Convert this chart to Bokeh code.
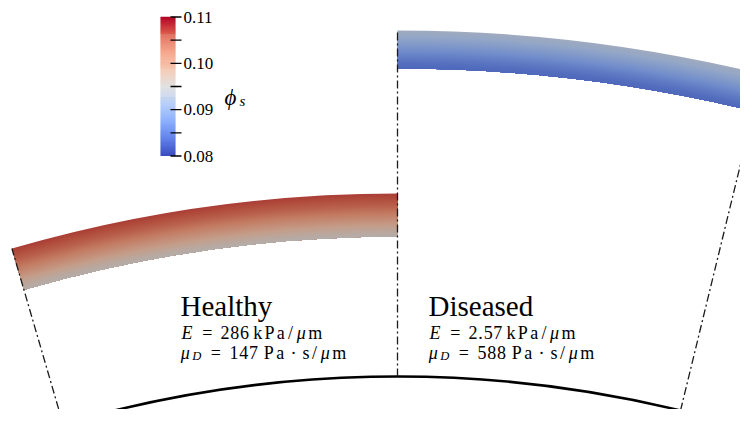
import numpy as np
from bokeh.plotting import figure
from bokeh.models import ColumnDataSource, Range1d
from bokeh.transform import linear_cmap
from bokeh.core.properties import value
from bokeh.embed import file_html
from bokeh.resources import INLINE

# ---------------- data ----------------
groups = ["Healthy", "Diseased"]
E_values = ["286", "2.57"]        # kPa/um
muD_values = ["147", "588"]       # Pa.s/um
phi_low, phi_high = 0.08, 0.11
cbar_major = [0.08, 0.09, 0.10, 0.11]
cbar_major_labels = ["0.08", "0.09", "0.10", "0.11"]
cbar_minor = [0.085, 0.095, 0.105]
# phi_s read across the wall, outer surface -> inner surface
healthy_phi = [0.1070, 0.1062, 0.1050, 0.1036, 0.1020, 0.1003, 0.0986, 0.0970, 0.0956]
diseased_phi = [0.0928, 0.0918, 0.0906, 0.0893, 0.0880, 0.0867, 0.0855, 0.0845, 0.0838]

# ---------------- layout (pixel-like units, y up) ----------------
W, H = 740, 409
CX, CY = 397.0, 425.0 - 1571.0
R_BASE = 1195.0
R_H = (1335.0, 1378.0)
R_D = (1503.0, 1541.0)
A_LEFT, A_MID, A_RIGHT = 106.25, 90.0, 76.3
SERIF = "Liberation Serif"

anchors = [(0.0, (59, 76, 192)), (0.125, (98, 130, 234)), (0.25, (141, 176, 254)),
           (0.375, (184, 208, 249)), (0.5, (221, 221, 221)), (0.625, (245, 196, 172)),
           (0.75, (244, 154, 123)), (0.875, (221, 96, 76)), (1.0, (180, 4, 38))]


def make_palette(n=256, shade=1.0):
    ts = [a[0] for a in anchors]
    out = []
    for t in np.linspace(0, 1, n):
        rgb = [np.interp(t, ts, [a[1][k] for a in anchors]) * shade for k in range(3)]
        out.append("#%02x%02x%02x" % tuple(int(round(c)) for c in rgb))
    return out


cbar_palette = make_palette(256, 1.0)
band_palette = make_palette(256, 0.8)

# the picture is taken from the figure's own top-left corner
p = figure(width=W, height=H, output_backend="svg", toolbar_location=None,
           x_range=Range1d(0, W), y_range=Range1d(425 - H, 425),
           x_axis_type=None, y_axis_type=None, min_border=0,
           outline_line_color=None, background_fill_color="white",
           border_fill_color="white")


def band_source(phis, r_in, r_out, a0, a1):
    n = int(round(r_out - r_in))
    outer = r_out - np.arange(n)
    tt = (r_out - (outer - 0.5)) / (r_out - r_in)
    ph = np.interp(tt, np.linspace(0, 1, len(phis)), phis)
    return ColumnDataSource(dict(x=[CX] * n, y=[CY] * n, ri=[r_in] * n, ro=outer,
                                 phi=ph, a0=[a0] * n, a1=[a1] * n))


for phis, (ri, ro), a0, a1 in [(healthy_phi, R_H, A_MID, A_LEFT),
                               (diseased_phi, R_D, A_RIGHT - 2, A_MID)]:
    src = band_source(phis, ri, ro, a0, a1)
    p.annular_wedge(x="x", y="y", inner_radius="ri", outer_radius="ro",
                    start_angle="a0", end_angle="a1",
                    start_angle_units="deg", end_angle_units="deg",
                    fill_color=linear_cmap("phi", band_palette, phi_low, phi_high),
                    line_color=None, source=src)

# bottom arc
p.arc(x=CX, y=CY, radius=R_BASE, start_angle=np.radians(A_RIGHT), end_angle=np.radians(A_LEFT),
      line_color="black", line_width=2.6)


def polar(r, a):
    return CX + r * np.cos(np.radians(a)), CY + r * np.sin(np.radians(a))


seg = {"x0": [], "y0": [], "x1": [], "y1": []}
for a, r_end in [(A_LEFT, R_H[1]), (A_MID, R_D[1]), (A_RIGHT, R_D[0])]:
    x0, y0 = polar(R_BASE, a)
    x1, y1 = polar(r_end, a)
    seg["x0"].append(x0); seg["y0"].append(y0); seg["x1"].append(x1); seg["y1"].append(y1)
p.segment(x0="x0", y0="y0", x1="x1", y1="y1", source=ColumnDataSource(seg),
          line_color="#1a1a1a", line_width=1.3, line_dash="8 3 2 3")

# colour bar
CB_X0, CB_X1 = 160.0, 175.0
CB_Y0, CB_Y1 = 425.0 - 155.5, 425.0 - 16.5


def cb_y(v):
    return CB_Y0 + (np.asarray(v) - phi_low) / (phi_high - phi_low) * (CB_Y1 - CB_Y0)


nb = 140
edges = np.linspace(phi_low, phi_high, nb + 1)
mids = 0.5 * (edges[:-1] + edges[1:])
p.quad(left=CB_X0, right=CB_X1, bottom="b", top="t",
       fill_color=linear_cmap("v", cbar_palette, phi_low, phi_high), line_color=None,
       source=ColumnDataSource(dict(v=mids, b=cb_y(edges[:-1]), t=cb_y(edges[1:]) + 0.3)))
ticks = list(cbar_major) + list(cbar_minor)
p.segment(x0=170, x1=181, y0=cb_y(ticks), y1=cb_y(ticks), line_color="black", line_width=1.4)
p.text(x=183, y=cb_y(cbar_major), text=cbar_major_labels, text_font=value(SERIF),
       text_font_size="17px", text_baseline="middle", text_align="left", text_color="black")
p.text(x=[224], y=[425 - 97], text=["\u03d5"], text_font=value(SERIF), text_font_style="italic",
       text_font_size="23px", text_baseline="alphabetic", text_color="black")
p.text(x=[239], y=[425 - 100], text=["s"], text_font=value(SERIF), text_font_style="italic",
       text_font_size="15px", text_baseline="alphabetic", text_color="black")

# panel titles and parameters
EM = 19.4
FS = 18.0
rows = {"x": [], "y": [], "t": [], "st": [], "fs": []}


def add_tokens(x0, yb, toks):
    x = x0
    for tok in toks:
        ch, it, adv = tok[0], tok[1], tok[2]
        sc = tok[3] if len(tok) > 3 else 1.0
        dy = tok[4] if len(tok) > 4 else 0.0
        if ch is not None:
            rows["x"].append(x + adv * EM / 2)
            rows["y"].append(yb + dy * EM)
            rows["t"].append(ch)
            rows["st"].append("italic" if it else "normal")
            rows["fs"].append("%.1fpx" % (FS * sc))
        x += adv * EM


def num_tokens(s):
    return [(c, False, 0.278 if c == "." else 0.5) for c in s]


title_x = [180, 428]
for g, e, mu, x0 in zip(groups, E_values, muD_values, title_x):
    p.text(x=[x0], y=[425 - 305], text=[g], text_font=value(SERIF), text_font_size="29px",
           text_baseline="alphabetic", text_color="black")
    line1 = ([("E", True, 0.764), (None, False, 0.278), ("=", False, 0.778), (None, False, 0.278)]
             + num_tokens(e)
             + [(None, False, 0.167), ("k", False, 0.528), ("P", False, 0.681), ("a", False, 0.5),
                ("/", False, 0.5), ("\u03bc", True, 0.603), ("m", False, 0.833)])
    line2 = ([("\u03bc", True, 0.603), ("D", True, 0.58, 0.7, -0.16), (None, False, 0.3),
              ("=", False, 0.778), (None, False, 0.3)]
             + num_tokens(mu)
             + [(None, False, 0.2), ("P", False, 0.681), ("a", False, 0.5), (None, False, 0.3),
                ("\u00b7", False, 0.278), (None, False, 0.3), ("s", False, 0.394),
                ("/", False, 0.5), ("\u03bc", True, 0.603), ("m", False, 0.833)])
    add_tokens(x0 - 1, 425 - 332, line1)
    add_tokens(x0 - 1, 425 - 352, line2)

p.text(x="x", y="y", text="t", text_font_style="st", text_font_size="fs",
       text_font=value(SERIF), text_align="center", text_baseline="alphabetic",
       text_color="black", source=ColumnDataSource(rows))

open("out.html", "w").write(file_html(p, INLINE))
